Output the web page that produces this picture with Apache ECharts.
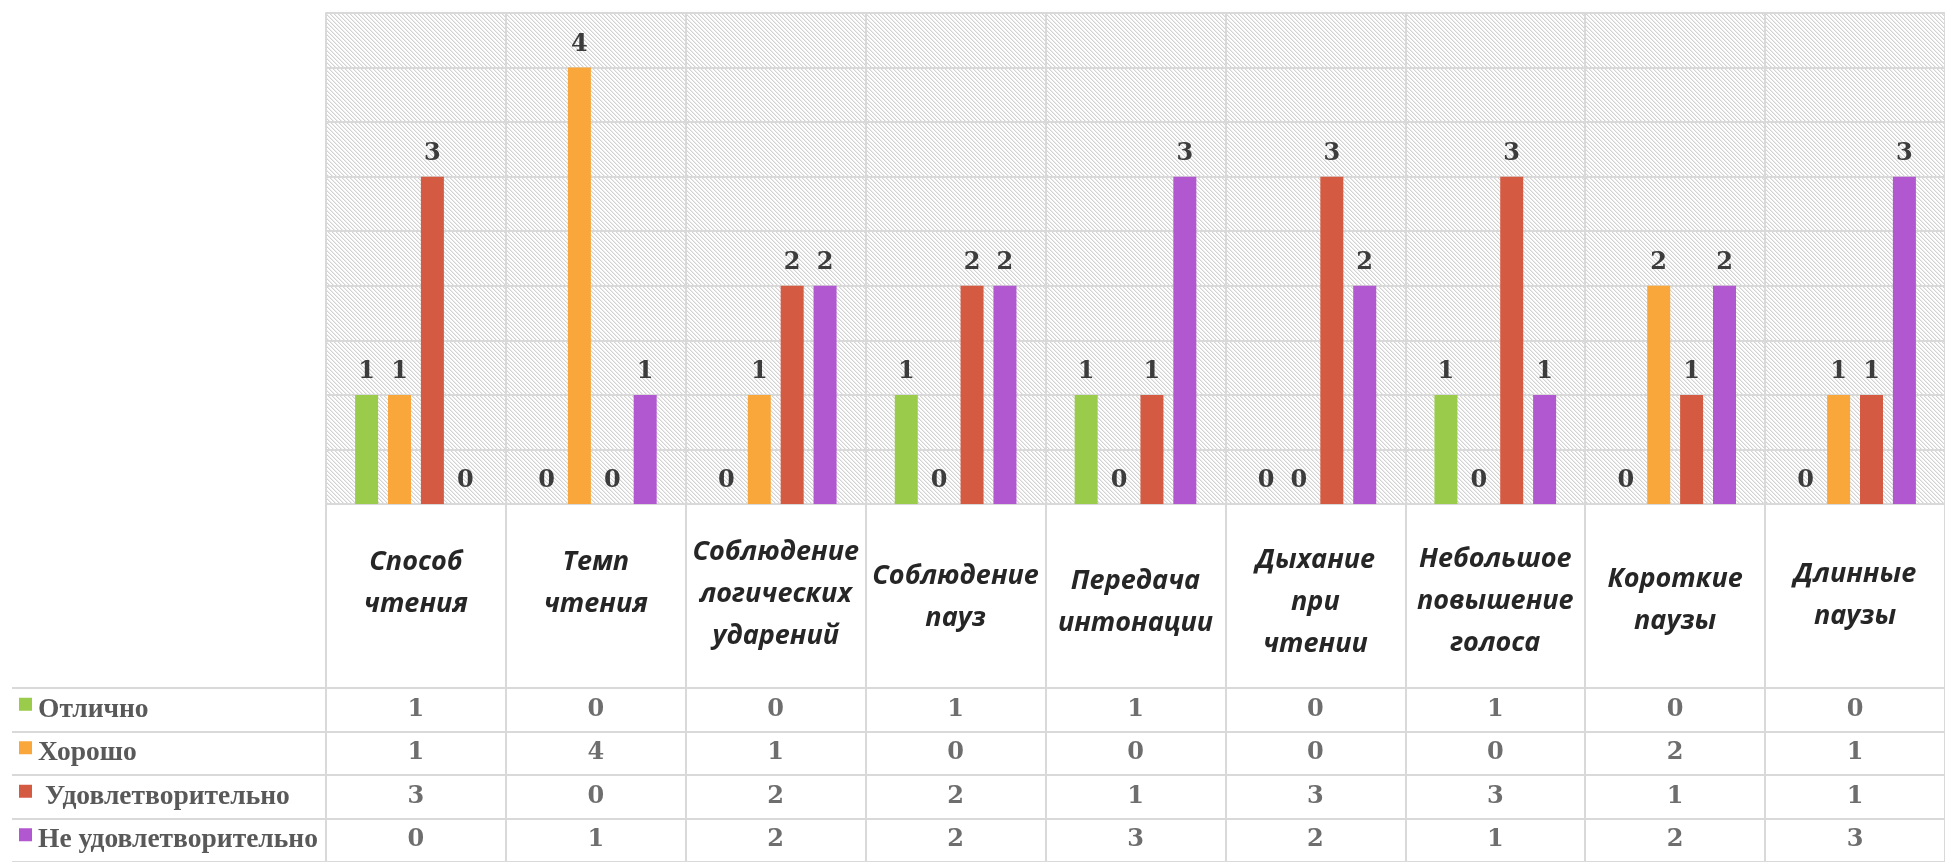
<!DOCTYPE html>
<html>
<head>
<meta charset="utf-8">
<script src="https://cdn.jsdelivr.net/npm/echarts/dist/echarts.min.js"></script>
<style>
html,body{margin:0;padding:0;background:#fff;}
#chart{width:1945px;height:862px;}
</style>
</head>
<body>
<div id="chart"></div>
<script>
// ---- data ----
const categories = [
  'Способ\nчтения',
  'Темп\nчтения',
  'Соблюдение\nлогических\nударений',
  'Соблюдение\nпауз',
  'Передача\nинтонации',
  'Дыхание\nпри\nчтении',
  'Небольшое\nповышение\nголоса',
  'Короткие\nпаузы',
  'Длинные\nпаузы'
];
const seriesNames = ['Отлично', 'Хорошо', ' Удовлетворительно', 'Не удовлетворительно'];
const excellent      = [1, 0, 0, 1, 1, 0, 1, 0, 0];
const good           = [1, 4, 1, 0, 0, 0, 0, 2, 1];
const satisfactory   = [3, 0, 2, 2, 1, 3, 3, 1, 1];
const unsatisfactory = [0, 1, 2, 2, 3, 2, 1, 2, 3];
const yMin = 0, yMax = 4.5, yStep = 0.5;

// ---- styles ----
const colors = ['#9BCB4A', '#F9A73A', '#D45B41', '#B157CF'];
const gridLine = '#d9d9d9';
const numFont = "'DejaVu Serif', serif";
// vertical lift (px) of each category label, to mimic the original placement
const labelLift = [14, 14, 3, 0, -5, -5, -4, -3, 2];

const seriesValues = [excellent, good, satisfactory, unsatisfactory];

// hatch pattern
const pc = document.createElement('canvas');
pc.width = 4; pc.height = 4;
const pctx = pc.getContext('2d');
pctx.fillStyle = '#ffffff';
pctx.fillRect(0, 0, 4, 4);
for (let i = 0; i < 4; i++) {
  pctx.fillStyle = '#d2d2d2';
  pctx.fillRect(i, i, 1, 1);
  pctx.fillStyle = '#ececec';
  pctx.fillRect((i + 1) % 4, i, 1, 1);
}

const tableData = [];
seriesValues.forEach((vals, r) => vals.forEach((v, c) => tableData.push([c, r, v])));

// spacer tokens used to nudge each category label up or down
const catRich = {};
labelLift.forEach((lift, i) => {
  const h = Math.max(1, Math.abs(2 * lift));
  catRich['sp' + i] = { height: h, lineHeight: h, width: 1 };
});
const catFormatter = (value, idx) => {
  const lift = labelLift[idx] || 0;
  if (lift > 0) return value + '\n{sp' + idx + '|}';
  if (lift < 0) return '{sp' + idx + '|}\n' + value;
  return value;
};

const rich = { name: { fontFamily: "'Liberation Serif', serif", fontWeight: 'bold', fontSize: 27.5,
  lineHeight: 24, color: '#595959', padding: [0, 0, 0, 6] } };
colors.forEach((col, i) => {
  rich['sq' + i] = { width: 13, height: 13, backgroundColor: col, verticalAlign: 'top' };
});

const chart = echarts.init(document.getElementById('chart'));
chart.setOption({
  animation: false,
  backgroundColor: '#ffffff',
  grid: [
    { left: 326, top: 13, width: 1630, height: 491, show: true, borderWidth: 0,
      backgroundColor: { image: pc, repeat: 'repeat' } },
    { left: 326, top: 688, width: 1630, height: 179, show: false }
  ],
  xAxis: [
    {
      type: 'category', gridIndex: 0, data: categories, boundaryGap: true,
      axisLine: { show: true, lineStyle: { color: gridLine, width: 2 } },
      axisTick: { show: true, interval: 0, length: 184, lineStyle: { color: gridLine, width: 2 } },
      splitLine: { show: true, interval: 0, lineStyle: { color: gridLine, width: 2 } },
      axisLabel: {
        interval: 0, margin: 93, verticalAlign: 'middle', align: 'center', lineHeight: 42,
        fontFamily: "'Open Sans', sans-serif", fontStyle: 'italic', fontWeight: 'bold',
        fontSize: 27, color: '#262626',
        formatter: catFormatter, rich: catRich
      }
    },
    {
      type: 'category', gridIndex: 1, data: categories, boundaryGap: true,
      axisLine: { show: false }, axisTick: { show: false }, axisLabel: { show: false },
      splitLine: { show: true, interval: 0, lineStyle: { color: gridLine, width: 2 } }
    }
  ],
  yAxis: [
    {
      type: 'value', gridIndex: 0, min: yMin, max: yMax, interval: yStep,
      axisLine: { show: true, lineStyle: { color: gridLine, width: 2 } },
      axisTick: { show: false }, axisLabel: { show: false },
      splitLine: { show: true, lineStyle: { color: gridLine, width: 2 } }
    },
    {
      type: 'category', gridIndex: 1, data: seriesNames, inverse: true, boundaryGap: true,
      axisLine: { show: true, lineStyle: { color: gridLine, width: 2 } },
      axisTick: { show: true, interval: 0, length: 314, lineStyle: { color: gridLine, width: 2 } },
      splitLine: { show: true, interval: 0, lineStyle: { color: gridLine, width: 2 } },
      axisLabel: {
        interval: 0, align: 'left', margin: 307,
        formatter: (v, idx) => '{sq' + idx + '|}{name|' + v + '}',
        rich: rich
      }
    },
    {
      type: 'category', gridIndex: 1, data: seriesNames, inverse: true, offset: 314,
      axisLine: { show: true, lineStyle: { color: gridLine, width: 2 } },
      axisTick: { show: false }, axisLabel: { show: false }, splitLine: { show: false }
    }
  ],
  series: seriesNames.map((name, i) => ({
    name: name, type: 'bar', xAxisIndex: 0, yAxisIndex: 0,
    data: seriesValues[i], barWidth: 23, barGap: '43%',
    itemStyle: { color: colors[i] },
    label: { show: true, position: 'top', distance: 11,
      fontFamily: numFont, fontWeight: 'bold', fontSize: 24, color: '#3c3c3c' }
  })).concat([{
    type: 'scatter', xAxisIndex: 1, yAxisIndex: 1, data: tableData,
    symbolSize: 1, itemStyle: { color: 'rgba(0,0,0,0)' },
    encode: { x: 0, y: 1 },
    label: { show: true, position: 'inside', formatter: p => String(p.value[2]),
      fontFamily: numFont, fontWeight: 'bold', fontSize: 24, color: '#4a4a4a' }
  }])
});
</script>
</body>
</html>
